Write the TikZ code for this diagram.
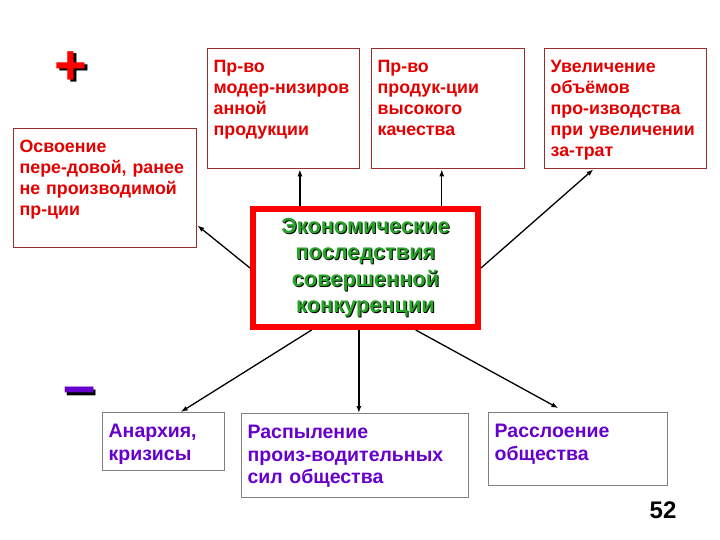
\documentclass[tikz,border=0pt]{standalone}
\usepackage{fontspec}
\setmainfont{Liberation Sans}
\usetikzlibrary{arrows.meta,positioning,calc}

\definecolor{txtred}{RGB}{228,0,0}
\definecolor{boxred}{RGB}{153,45,45}
\definecolor{boxgray}{RGB}{128,128,128}
\definecolor{txtpurple}{RGB}{102,0,204}
\definecolor{econgreen}{RGB}{40,165,40}

\newcommand\shadowed[3]{\rlap{\kern#2\raisebox{-#2}{\color{black}#3}}{\color{#1}#3}}

\tikzset{
  card/.style={draw,anchor=north west,align=left,line width=1.3pt,
    inner xsep=6pt,inner ysep=8pt,text height=16pt,
    font=\bfseries\fontsize{17.8}{21}\selectfont},
  gaincard/.style={card,draw=boxred,text=txtred},
  losscard/.style={card,draw=boxgray,text=txtpurple,text height=17pt,
    font=\bfseries\fontsize{19.5}{22.5}\selectfont},
  link/.style={->,line width=1.3pt}
}

\begin{document}
\begin{tikzpicture}[x=1pt,y=-1pt,>={Latex[length=7pt,width=5pt]}]
  \useasboundingbox[fill=white] (0,0) rectangle (720,540);

  \node[draw=red,line width=6pt,minimum width=225pt,minimum height=118pt,
    align=center,font=\bfseries\fontsize{21.8}{26.5}\selectfont] (econ) at (365.5,268)
    {\shadowed{econgreen}{1pt}{Экономические}\\\shadowed{econgreen}{1pt}{последствия}\\
     \shadowed{econgreen}{1pt}{совершенной}\\\shadowed{econgreen}{1pt}{конкуренции}};

  \node[gaincard,text width=171pt,text depth=87pt] (mastery) at (13,128)
    {Освоение\\пере-довой, ранее\\не производимой\\пр-ции};
  \node[gaincard,text width=140pt,text depth=88pt] (modern) at (207,48)
    {Пр-во\\модер-низиров\\анной\\продукции};
  \node[gaincard,text width=141pt,text depth=88pt] (quality) at (371,48)
    {Пр-во\\продук-ции\\высокого\\качества};
  \node[gaincard,text width=150pt,text depth=88pt] (volume) at (544,48)
    {Увеличение\\объёмов\\про-изводства\\при увеличении\\за-трат};

  \node[losscard,text width=110pt,text depth=25pt] (anarchy) at (102,412)
    {Анархия,\\кризисы};
  \node[losscard,text width=215pt,text depth=51pt] (scatter) at (241,413)
    {Распыление\\произ-водительных\\сил общества};
  \node[losscard,text width=167pt,text depth=40pt] (strata) at (488,412)
    {Расслоение\\общества};

  \node[inner sep=0pt,font=\bfseries\fontsize{56}{56}\selectfont] (plus) at (71,69)
    {\shadowed{red}{2.5pt}{+}};
  \node[inner sep=0pt,font=\bfseries\fontsize{58}{58}\selectfont] (minus) at (79.5,398)
    {\shadowed{txtpurple}{2.5pt}{–}};
  \node[inner sep=0pt,anchor=base,font=\bfseries\fontsize{24}{24}\selectfont] (pagenum) at (663,518) {52};

  \draw[link] (econ.north -| modern.-75) -- (modern.-75);
  \draw[link] (econ.north -| quality.-96) -- (quality.-96);
  \draw[link] (econ.east) -- (volume.-118);
  \draw[link] (econ.west) -- (mastery.-22.5);
  \draw[link] (econ.-131) -- (anarchy.60);
  \draw[link] (econ.south -| scatter.85) -- (scatter.85);
  \draw[link,shorten >=8pt] (econ.-51) -- (strata.109);
\end{tikzpicture}
\end{document}
